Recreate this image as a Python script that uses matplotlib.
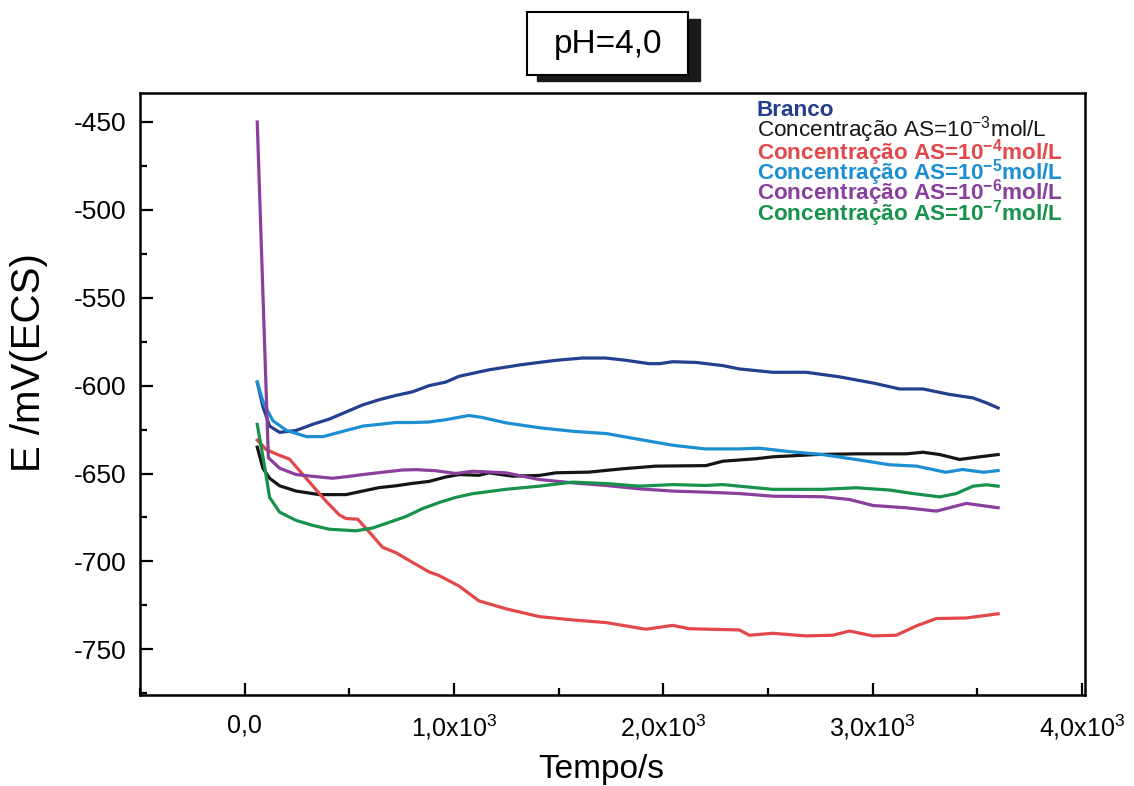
import numpy as np
import matplotlib
matplotlib.use("Agg")
import matplotlib.pyplot as plt
from matplotlib.ticker import MultipleLocator, FuncFormatter
from matplotlib.patches import Rectangle

plt.rcParams['font.family'] = ['Liberation Sans', 'DejaVu Sans']
plt.rcParams['mathtext.fontset'] = 'custom'
plt.rcParams['mathtext.rm'] = 'Liberation Sans'
plt.rcParams['mathtext.default'] = 'regular'
plt.rcParams['axes.unicode_minus'] = False

# ---- data ----
t_branco = [60, 87, 119, 167, 246, 325, 405, 484, 563, 643, 722, 802, 881, 960, 1024,
            1167, 1327, 1487, 1614, 1726, 1822, 1933, 1981, 2045, 2156, 2284, 2364,
            2523, 2683, 2842, 3002, 3129, 3241, 3368, 3480, 3544, 3600]
e_branco = [-598, -612, -623, -626.6, -625.5, -622, -619, -615, -611, -608, -605.6, -603.5,
            -600, -598, -594.7, -591, -588, -585.6, -584.3, -584.3, -585.6, -587.5, -587.5,
            -586.4, -586.8, -588.6, -590.5, -592.4, -592.4, -595, -598.5, -601.9, -601.9,
            -605, -607, -609.8, -612.7]

t_c3 = [60, 87, 119, 167, 246, 357, 484, 563, 643, 722, 802, 881, 960, 1024, 1119,
        1167, 1279, 1407, 1487, 1646, 1805, 1965, 2204, 2284, 2443, 2523, 2731, 2922,
        3161, 3241, 3321, 3416, 3512, 3600]
e_c3 = [-635, -647, -652.7, -657, -660, -662, -662, -660, -658, -657, -655.6, -654.5,
        -652, -650.6, -651, -649.6, -651.5, -651.1, -649.6, -649.2, -647.3, -645.8,
        -645.5, -643, -641.6, -640.5, -639.2, -638.8, -638.8, -637.9, -639.2, -642,
        -640.5, -639.2]

t_c4 = [60, 103, 167, 214, 262, 325, 389, 452, 484, 540, 595, 659, 722, 802, 881, 928,
        1024, 1120, 1247, 1407, 1566, 1726, 1917, 2045, 2124, 2364, 2411, 2523, 2683,
        2810, 2890, 3002, 3113, 3209, 3305, 3448, 3600]
e_c4 = [-631, -636.4, -639.7, -641.8, -648.4, -657, -665.8, -673.5, -675.6, -676, -683.3,
        -692, -695, -700.6, -706, -708, -714, -722.5, -726.9, -731.4, -733.3, -734.8,
        -738.6, -736.4, -738.3, -739, -742, -740.9, -742.4, -742, -739.6, -742.4, -742,
        -736.7, -732.5, -732.2, -729.8]

t_c5 = [60, 90, 135, 200, 295, 375, 485, 565, 645, 720, 800, 880, 960, 1070, 1130, 1250,
        1410, 1570, 1730, 1890, 2050, 2200, 2360, 2460, 2600, 2760, 2920, 3080, 3210,
        3350, 3430, 3530, 3600]
e_c5 = [-598, -610, -620, -625.5, -629, -629, -625.5, -623, -622, -621, -621, -620.7,
        -619.4, -617, -618, -621.2, -624, -626, -627.3, -630.7, -634, -636, -636, -635.6,
        -637.5, -639.2, -642, -645, -645.8, -649.3, -647.7, -649.3, -648.3]

t_c6 = [60, 113, 167, 246, 325, 420, 500, 563, 643, 754, 818, 913, 1008, 1088, 1247,
        1407, 1566, 1726, 1885, 2045, 2204, 2364, 2523, 2762, 2890, 3002, 3161, 3305,
        3448, 3600]
e_c6 = [-450, -641, -647, -650.6, -651.6, -652.7, -651.6, -650.6, -649.5, -648, -647.8,
        -648.4, -650, -648.7, -649.6, -653.4, -655.3, -656.8, -658.7, -660, -660.6,
        -661.4, -662.9, -663.2, -664.8, -668.2, -669.5, -671.4, -667, -669.5]

t_c7 = [60, 79, 103, 119, 167, 246, 325, 405, 532, 611, 690, 770, 849, 929, 1008, 1087,
        1247, 1407, 1566, 1726, 1885, 2045, 2204, 2284, 2443, 2523, 2762, 2922, 3081,
        3193, 3321, 3400, 3480, 3544, 3600]
e_c7 = [-622, -635, -651.6, -663.6, -672, -676.7, -679.5, -681.7, -682.6, -681, -677.8,
        -674.5, -670, -666.5, -663.6, -661.5, -659, -657.2, -654.9, -655.7, -657.2,
        -656.3, -656.8, -656.3, -658.1, -659, -659, -658.1, -659.4, -661.4, -663.3,
        -661.4, -657.2, -656.4, -657.2]

labels = ['Branco',
          'Concentração AS=10$^{-3}$mol/L',
          'Concentração AS=10$^{-4}$mol/L',
          'Concentração AS=10$^{-5}$mol/L',
          'Concentração AS=10$^{-6}$mol/L',
          'Concentração AS=10$^{-7}$mol/L']
colors = ['#233f8e', '#151515', '#e2474a', '#1c8fd2', '#8a3f9c', '#16924a']
times = [t_branco, t_c3, t_c4, t_c5, t_c6, t_c7]
values = [e_branco, e_c3, e_c4, e_c5, e_c6, e_c7]

fig = plt.figure(figsize=(11.34, 7.86), dpi=100)
ax = fig.add_axes([0.1235, 0.1158, 0.8333, 0.7659])

for t, e, c in zip(times, values, colors):
    ax.plot(t, e, color=c, lw=2.3, solid_joinstyle='round')

ax.set_xlim(-500, 4015)
ax.set_ylim(-776, -433.5)

ax.xaxis.set_major_locator(MultipleLocator(1000))
ax.xaxis.set_minor_locator(MultipleLocator(500))
ax.yaxis.set_major_locator(MultipleLocator(50))
ax.yaxis.set_minor_locator(MultipleLocator(25))

def xfmt(v, pos):
    if abs(v) < 1e-9:
        return '0,0'
    return '%d,0x10$^3$' % round(v / 1000)

ax.xaxis.set_major_formatter(FuncFormatter(xfmt))
ax.tick_params(which='both', direction='in', width=1.6, top=False, right=False)
ax.tick_params(which='major', length=9)
ax.tick_params(which='minor', length=5)
ax.tick_params(axis='y', labelsize=19, pad=10)
ax.tick_params(axis='x', labelsize=18, pad=13)
for s in ax.spines.values():
    s.set_linewidth(1.8)

ax.set_ylabel('E /mV(ECS)', fontsize=29)
ax.yaxis.set_label_coords(-0.097, 0.553)
ax.set_xlabel('Tempo/s', fontsize=24)
ax.xaxis.set_label_coords(0.488, -0.098)

# legend as coloured text only
ys = [110, 130, 152.5, 172.5, 193, 213.5]
for i, (lab, c) in enumerate(zip(labels, colors)):
    w = 'normal' if i == 1 else 'bold'
    ax.text(757 / 1134, 1 - ys[i] / 786, lab, color=c, fontsize=16.2, fontweight=w,
            transform=fig.transFigure, va='center', ha='left')

# title box with shadow
fig.patches.append(Rectangle((537 / 1134, 1 - 81 / 786), 163 / 1134, 62 / 786,
                             transform=fig.transFigure, color='#1a1a1a', zorder=1))
fig.patches.append(Rectangle((527 / 1134, 1 - 75 / 786), 161 / 1134, 63 / 786,
                             transform=fig.transFigure, facecolor='white',
                             edgecolor='black', lw=1.5, zorder=2))
fig.text(608 / 1134, 1 - 45 / 786, 'pH=4,0', fontsize=24, ha='center', va='center', zorder=3)

fig.savefig('out.png', dpi=100)
